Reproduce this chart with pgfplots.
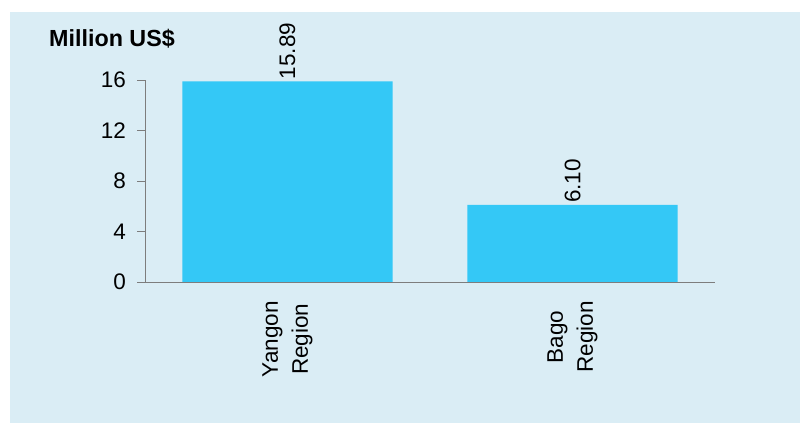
\documentclass[border=0pt]{standalone}
\usepackage{pgfplots}
\pgfplotsset{compat=1.18}
\usepackage{fontspec}
\setmainfont{Liberation Sans}
\definecolor{bg}{RGB}{218,237,245}
\definecolor{barc}{RGB}{52,200,246}
\definecolor{axc}{RGB}{125,125,125}
\begin{document}
\begin{tikzpicture}
\useasboundingbox (0pt,0pt) rectangle (800pt,423pt);
\fill[white] (0pt,0pt) rectangle (800pt,423pt);
\fill[bg] (10pt,0pt) rectangle (800pt,411pt);
\node[anchor=base west, font=\fontsize{23.3}{27}\selectfont\bfseries, inner sep=0pt] at (49pt,376pt) {Million US\$};
\begin{axis}[
  at={(145pt,141pt)}, anchor=south west, scale only axis,
  width=570pt, height=202pt,
  xmin=-0.5, xmax=1.5, ymin=0, ymax=16,
  clip=false,
  ybar, bar width=0.737,
  axis lines=left,
  axis line style={axc, line width=0.8pt, -},
  every tick/.style={axc, line width=0.8pt},
  tick align=outside,
  major tick length=8pt,
  ytick={0,4,8,12,16},
  xtick={0,1},
  xticklabels={{Yangon\\Region},{Bago\\Region}},
  xtick style={draw=none},
  extra x ticks={-0.5,0.5,1.5},
  extra x tick labels={},
  extra x tick style={major tick length=6pt, tick style={axc, line width=0.8pt}},
  /pgf/number format/assume math mode=true,
  tick label style={font=\fontsize{22.5}{30}\selectfont},
  yticklabel style={inner sep=3pt, xshift=-8pt},
  xticklabel style={rotate=90, anchor=east, align=center, inner sep=2pt, xshift=-9pt},
  nodes near coords={\pgfmathprintnumber[fixed, fixed zerofill, precision=2]{\pgfplotspointmeta}},
  nodes near coords style={rotate=90, anchor=west, inner sep=2pt, font=\fontsize{22.5}{27}\selectfont, text=black},
]
\addplot[fill=barc, draw=none] coordinates {(0,15.89) (1,6.10)};
\end{axis}
\end{tikzpicture}
\end{document}
